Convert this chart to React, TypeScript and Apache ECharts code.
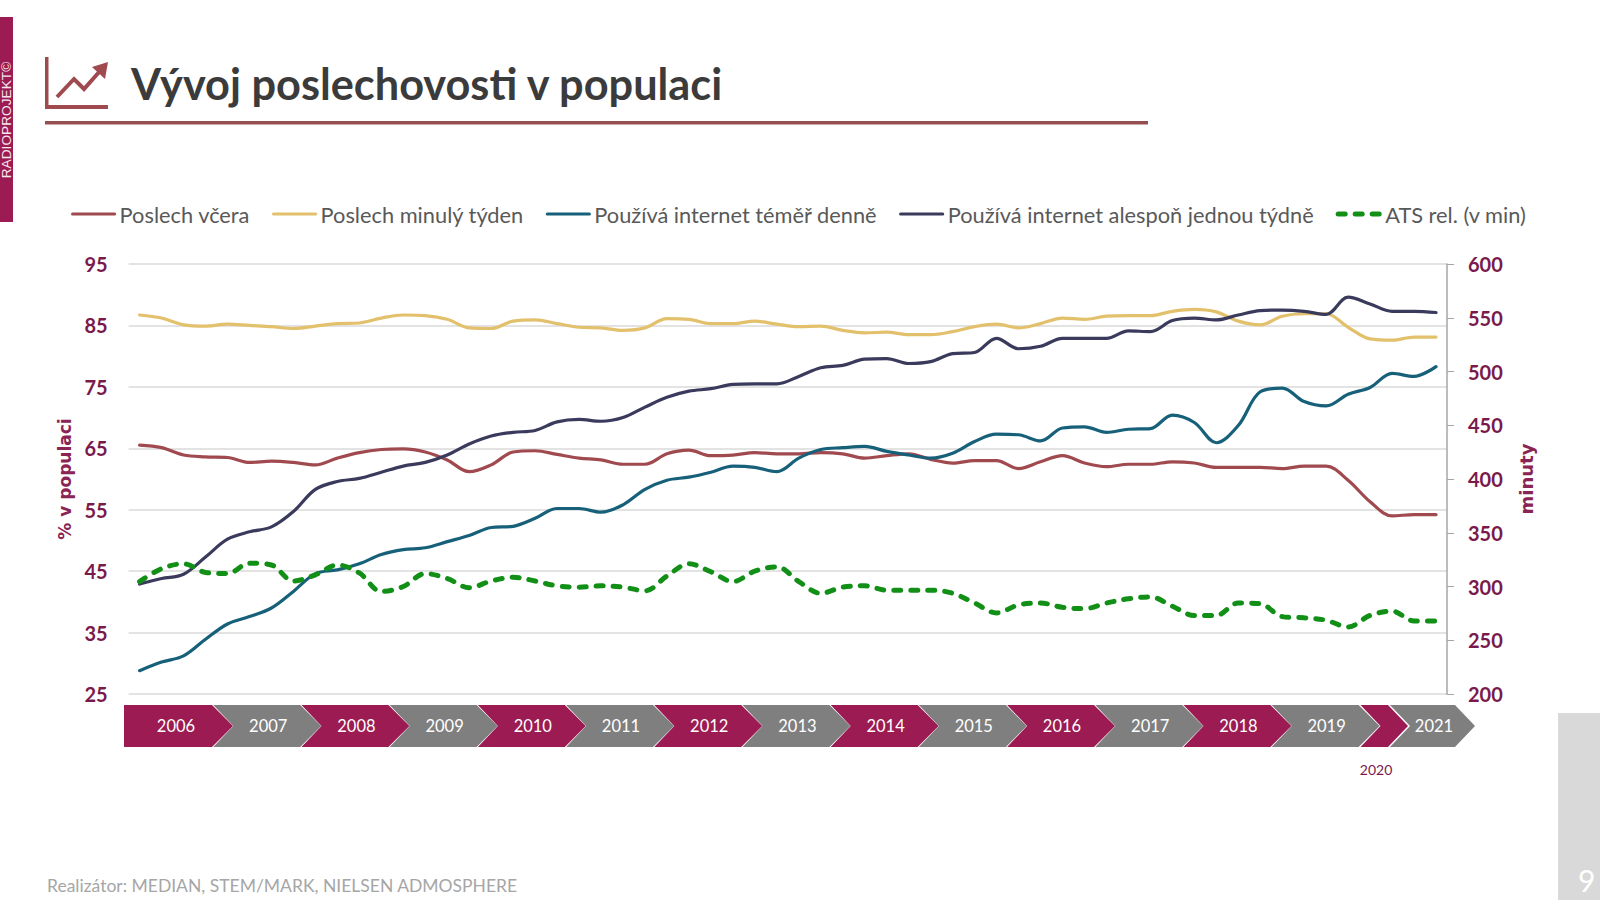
import React, { useEffect, useRef } from "react";
import * as echarts from "echarts";

const poslechVcera = [65.5,65.1,63.9,63.6,63.5,62.7,62.9,62.7,62.3,63.4,64.3,64.8,64.9,64.4,63.1,61.2,62.3,64.4,64.6,64,63.4,63.1,62.4,62.4,64.1,64.7,63.8,63.9,64.3,64.1,64.1,64.3,64.1,63.4,63.8,64.1,63.2,62.6,63,63,61.7,62.8,63.8,62.6,62,62.4,62.4,62.8,62.6,61.9,61.9,61.9,61.7,62.1,62.1,59.8,56.3,54,54.2,54.2];
const poslechTyden = [86.7,86.2,85.1,84.9,85.2,85,84.8,84.5,84.9,85.3,85.4,86.2,86.7,86.6,86,84.6,84.5,85.7,85.9,85.3,84.7,84.6,84.2,84.6,86.1,86,85.3,85.3,85.7,85.2,84.8,84.9,84.2,83.8,83.9,83.5,83.5,84,84.8,85.2,84.6,85.3,86.2,86,86.5,86.6,86.6,87.3,87.6,87.2,85.7,85.1,86.5,86.9,86.9,84.7,82.8,82.6,83.1,83.1];
const internetDenne = [28.8,30.2,31.2,33.9,36.4,37.6,39,41.7,44.6,45.2,46.2,47.7,48.5,48.8,49.8,50.8,52.1,52.3,53.6,55.2,55.2,54.6,55.8,58.3,59.8,60.3,61.1,62.1,61.9,61.2,63.4,64.8,65.1,65.3,64.5,63.9,63.4,64.2,66.1,67.3,67.2,66.2,68.3,68.5,67.6,68.1,68.2,70.4,69.2,65.9,68.7,74.2,74.8,72.6,71.9,73.8,74.9,77.2,76.7,78.3];
const internetTydne = [42.9,43.8,44.5,47.3,50.2,51.4,52.2,54.7,58.3,59.6,60.1,61.1,62.1,62.7,63.9,65.7,67,67.6,67.9,69.3,69.7,69.4,70,71.7,73.3,74.3,74.7,75.4,75.5,75.5,76.7,78.1,78.5,79.5,79.6,78.8,79.1,80.4,80.6,82.9,81.2,81.6,82.9,82.9,82.9,84.1,84,85.8,86.2,85.9,86.7,87.4,87.5,87.3,86.8,89.6,88.5,87.3,87.3,87.1];
const atsMinuty = [304.6,316.6,321.1,313.1,312,321.7,320,305.1,310.9,320,312.6,295.4,300,312,307.4,298.9,305.1,308.6,305.1,300.6,299.4,300.6,299.4,296,309.7,321.1,313.7,304.6,314.3,318.3,304.6,293.7,299.4,300.6,296.6,296.6,296.6,293.7,284.6,275.4,282.9,284.6,280.6,279.4,284.6,288.6,290.3,281.7,273.1,273.1,284.6,284,272,270.9,268.6,262.3,273.1,277.1,268,268];

const years = ["2006","2007","2008","2009","2010","2011","2012","2013","2014","2015","2016","2017","2018","2019"];
const extraCategories = ["2020 Q1","2020 Q2","2021 Q1","2021 Q2"];
const categories = years.flatMap((y) => [`${y} Q1`, `${y} Q2`, `${y} Q3`, `${y} Q4`]).concat(extraCategories);

const MAROON = "#9B1B52";
const GREY = "#7F7F7F";
const AXIS_TEXT = "#7A1A4C";
const BRICK = "#9E4A4E";
const FONT = "Lato";

function chevron(left: number, bodyEnd: number, tip: number, color: string, notch: boolean) {
  const top = 705, bottom = 747, mid = 726;
  const pts = notch
    ? [[left, top], [bodyEnd, top], [tip, mid], [bodyEnd, bottom], [left, bottom], [left + 20, mid]]
    : [[left, top], [bodyEnd, top], [tip, mid], [bodyEnd, bottom], [left, bottom]];
  return { type: "polygon", shape: { points: pts }, style: { fill: color } };
}

function label(x: number, y: number, text: string, fontSize: number, fill: string, extra: any = {}) {
  return {
    type: "text", x, y,
    style: { text, fontSize, fill, fontFamily: FONT, align: "center", verticalAlign: "middle", ...extra },
  };
}

function buildGraphics() {
  const g: any[] = [
    { type: "rect", shape: { x: 0, y: 17, width: 13, height: 205 }, style: { fill: MAROON } },
    { type: "text", x: 6.5, y: 120, rotation: Math.PI / 2,
      style: { text: "RADIOPROJEKT©", fontSize: 13.7, fill: "#F6E6EE", fontFamily: "Liberation Sans", align: "center", verticalAlign: "middle" } },
    { type: "rect", shape: { x: 45, y: 57, width: 3.5, height: 52 }, style: { fill: BRICK } },
    { type: "rect", shape: { x: 45, y: 105, width: 63, height: 4 }, style: { fill: BRICK } },
    { type: "polyline", shape: { points: [[57, 97], [74, 79], [84, 89], [100, 71]] }, style: { stroke: BRICK, lineWidth: 4, fill: "none" } },
    { type: "polygon", shape: { points: [[108, 62], [105, 79], [92, 67]] }, style: { fill: BRICK } },
    { type: "rect", shape: { x: 45, y: 121, width: 1103, height: 3.5 }, style: { fill: "#964F50" } },
    { type: "text", x: 131, y: 83,
      style: { text: "Vývoj poslechovosti v populaci", fontSize: 43.3, fontWeight: 700, fill: "#3B3B3B", fontFamily: FONT, align: "left", verticalAlign: "middle" } },
    { type: "rect", shape: { x: 1558, y: 713, width: 42, height: 187 }, style: { fill: "#D9D9D9" } },
    { type: "text", x: 1578, y: 880,
      style: { text: "9", fontSize: 30, fill: "#FFFFFF", fontFamily: FONT, align: "left", verticalAlign: "middle" } },
    { type: "text", x: 47, y: 885,
      style: { text: "Realizátor: MEDIAN, STEM/MARK, NIELSEN ADMOSPHERE", fontSize: 17.5, fill: "#A6A6A6", fontFamily: FONT, align: "left", verticalAlign: "middle" } },
  ];
  const pitch = 88.2;
  years.forEach((y, i) => {
    const left = i === 0 ? 124 : 125.1 + pitch * i;
    const end = 212 + pitch * i;
    g.push(chevron(left, end, end + 21, i % 2 === 0 ? MAROON : GREY, i !== 0));
    g.push(label(176 + pitch * i + (i === 0 ? 0 : 4), 725.5, y, 16.5, "#FFFFFF"));
  });
  g.push(chevron(1360.5, 1388, 1408, MAROON, true));
  g.push(chevron(1390, 1455, 1475, GREY, true));
  g.push(label(1434, 725.5, "2021", 16.5, "#FFFFFF"));
  g.push(label(1376, 769, "2020", 14, AXIS_TEXT));
  return g;
}

function lineSeries(name: string, data: number[], color: string, yAxisIndex = 0, extra: any = {}) {
  return {
    name, type: "line", data, yAxisIndex, smooth: 0.35, showSymbol: false, symbol: "none",
    lineStyle: { color, width: 3.2, cap: "round", ...extra }, itemStyle: { color },
  };
}

export default function App() {
  const ref = useRef<HTMLDivElement>(null);
  useEffect(() => {
    const chart = echarts.init(ref.current!, undefined, { renderer: "svg" });
    const axisLabel = { color: AXIS_TEXT, fontFamily: FONT, fontWeight: 700, fontSize: 20, margin: 21 };
    chart.setOption({
      animation: false,
      backgroundColor: "#FFFFFF",
      legend: {
        left: 71, top: 203, padding: 0, itemWidth: 42, itemHeight: 14, itemGap: 22,
        itemStyle: { color: "transparent", opacity: 0, borderWidth: 0 },
        lineStyle: { width: "inherit", type: "inherit", cap: "inherit" },
        textStyle: { color: "#595959", fontFamily: FONT, fontSize: 21.8 },
      },
      grid: { left: 128.6, top: 264, width: 1318.4, height: 430 },
      xAxis: {
        type: "category", data: categories, boundaryGap: true,
        axisLine: { show: false }, axisTick: { show: false }, axisLabel: { show: false },
      },
      yAxis: [
        {
          type: "value", min: 25, max: 95, interval: 10, name: "% v populaci",
          nameLocation: "middle", nameGap: 54,
          nameTextStyle: { color: "#8A2454", fontFamily: "DejaVu Sans", fontWeight: 700, fontSize: 17 },
          axisLine: { show: false }, axisTick: { show: false }, axisLabel,
          splitLine: { lineStyle: { color: "#DADADA", width: 1.5 } },
        },
        {
          type: "value", min: 200, max: 600, interval: 50, position: "right", name: "minuty",
          nameLocation: "middle", nameGap: 70, nameRotate: 90,
          nameTextStyle: { color: "#8A2454", fontFamily: "DejaVu Sans", fontWeight: 700, fontSize: 18 },
          axisLine: { show: true, lineStyle: { color: "#A6A6A6", width: 1.5 } },
          axisTick: { show: true, length: 7, lineStyle: { color: "#A6A6A6" } },
          axisLabel, splitLine: { show: false },
        },
      ],
      series: [
        lineSeries("Poslech včera", poslechVcera, "#A04A50"),
        lineSeries("Poslech minulý týden", poslechTyden, "#E3C06C"),
        lineSeries("Používá internet téměř denně", internetDenne, "#17607A"),
        lineSeries("Používá internet alespoň jednou týdně", internetTydne, "#3A3A5C"),
        lineSeries("ATS rel. (v min)", atsMinuty, "#128F17", 1, { width: 5, type: [7, 10] }),
      ],
      graphic: buildGraphics(),
    });
    return () => chart.dispose();
  }, []);
  return <div ref={ref} style={{ position: "absolute", left: 0, top: 0, width: 1600, height: 900 }} />;
}
